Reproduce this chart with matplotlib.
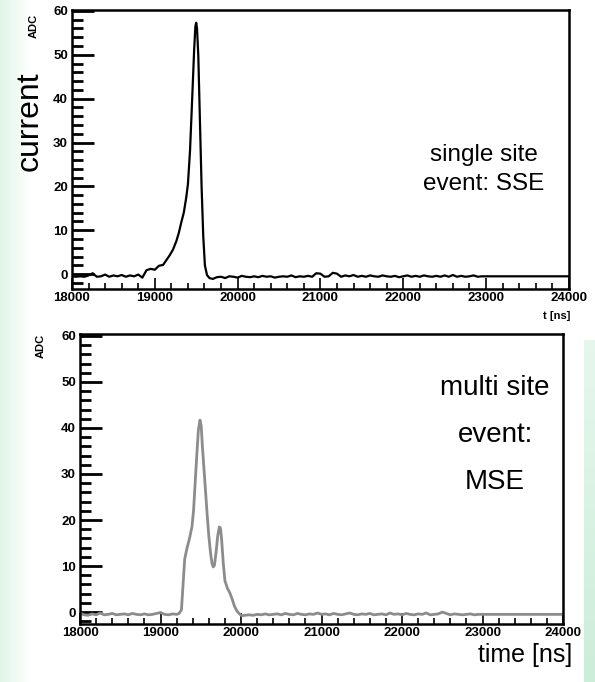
import numpy as np
import matplotlib.pyplot as plt
from matplotlib.ticker import MultipleLocator

# single site event (SSE)
sse_t = [18000, 18050, 18100, 18150, 18200, 18250, 18300, 18350, 18400, 18450,
         18500, 18550, 18600, 18650, 18700, 18750, 18800, 18850, 18900, 18950,
         19000, 19050, 19100, 19140, 19180, 19220, 19260, 19290, 19320, 19350,
         19380, 19400, 19425, 19445, 19460, 19475, 19490, 19500, 19510, 19525,
         19545, 19565, 19585, 19605, 19630, 19660, 19700, 19750, 19800, 19850,
         19900, 19950, 20000, 20050, 20100, 20150, 20200, 20250, 20300, 20350,
         20400, 20450, 20500, 20550, 20600, 20650, 20700, 20750, 20800, 20850,
         20900, 20950, 21000, 21050, 21100, 21150, 21200, 21250, 21300, 21350,
         21400, 21450, 21500, 21550, 21600, 21650, 21700, 21750, 21800, 21850,
         21900, 21950, 22000, 22050, 22100, 22150, 22200, 22250, 22300, 22350,
         22400, 22450, 22500, 22550, 22600, 22650, 22700, 22750, 22800, 22850,
         22900, 22950, 23000, 23500, 24000]
sse_v = [-0.5, -0.6, -0.5, -0.6, -0.3, 0.2, -0.6, -0.5, -0.1, -0.6,
         -0.3, -0.5, -0.2, -0.6, -0.3, -0.5, -0.1, -0.8, 0.9, 1.2,
         1.0, 1.9, 2.1, 3.2, 4.3, 5.6, 7.5, 9.4, 11.8, 14.0,
         17.5, 20.5, 28.0, 37.0, 44.0, 51.0, 56.5, 57.3, 56.0, 50.0,
         35.0, 20.0, 8.7, 2.0, -0.2, -0.9, -1.1, -0.7, -0.6, -0.9,
         -0.5, -0.6, -0.8, -0.4, -0.6, -0.7, -0.5, -0.7, -0.4, -0.6,
         -0.5, -0.8, -0.6, -0.5, -0.6, -0.3, -0.7, -0.5, -0.6, -0.4,
         -0.6, 0.2, 0.1, -0.6, -0.5, 0.3, 0.1, -0.6, -0.3, -0.5,
         -0.2, -0.6, -0.4, -0.6, -0.3, -0.5, -0.6, -0.3, -0.5, -0.6,
         -0.4, -0.7, -0.5, -0.3, -0.6, -0.4, -0.6, -0.3, -0.5, -0.6,
         -0.4, -0.6, -0.3, -0.6, -0.2, -0.6, -0.4, -0.6, -0.5, -0.3,
         -0.6, -0.5, -0.5, -0.5, -0.5]

# multi site event (MSE)
mse_t = [18000, 18050, 18100, 18150, 18200, 18250, 18300, 18350, 18400, 18450,
         18500, 18550, 18600, 18650, 18700, 18750, 18800, 18850, 18900, 18950,
         19000, 19050, 19100, 19150, 19200, 19230, 19260, 19280, 19300, 19330,
         19360, 19390, 19410, 19430, 19450, 19470, 19490, 19505, 19520, 19540,
         19560, 19580, 19600, 19620, 19640, 19655, 19670, 19690, 19710, 19730,
         19745, 19760, 19780, 19800, 19830, 19860, 19890, 19920, 19950, 19980,
         20010, 20050, 20100, 20150, 20200, 20250, 20300, 20350, 20400, 20450,
         20500, 20550, 20600, 20650, 20700, 20750, 20800, 20850, 20900, 20950,
         21000, 21050, 21100, 21150, 21200, 21250, 21300, 21350, 21400, 21450,
         21500, 21550, 21600, 21650, 21700, 21750, 21800, 21850, 21900, 21950,
         22000, 22050, 22100, 22150, 22200, 22250, 22300, 22350, 22400, 22450,
         22500, 22550, 22600, 22650, 22700, 22750, 22800, 22850, 22900, 22950,
         23000, 23050, 23500, 24000]
mse_v = [-0.2, -0.6, -0.7, -0.4, -0.6, -0.2, -0.6, -0.5, -0.3, -0.6,
         -0.5, -0.4, -0.6, -0.3, -0.5, -0.6, -0.4, -0.6, -0.5, -0.3,
         -0.1, -0.5, -0.6, -0.4, -0.5, -0.3, 0.5, 6.0, 11.5, 14.0,
         16.0, 18.5, 22.0, 28.0, 34.0, 39.5, 41.7, 40.5, 36.0, 31.0,
         26.0, 21.0, 16.5, 13.0, 10.5, 9.8, 10.2, 13.0, 16.5, 18.5,
         18.2, 15.5, 10.5, 6.8, 5.2, 4.2, 2.8, 1.2, 0.2, -0.4,
         -0.8, -0.7, -0.6, -0.7, -0.5, -0.6, -0.4, -0.6, -0.5, -0.4,
         -0.6, -0.3, -0.5, -0.6, -0.3, -0.5, -0.6, -0.4, -0.5, -0.2,
         -0.5, -0.4, -0.6, -0.3, -0.5, -0.6, -0.4, -0.2, -0.5, -0.6,
         -0.4, -0.5, -0.3, -0.6, -0.5, -0.4, -0.6, -0.2, -0.5, -0.4,
         -0.6, -0.3, -0.5, -0.6, -0.4, -0.5, -0.2, -0.6, -0.5, -0.4,
         0.0, -0.3, -0.6, -0.4, -0.5, -0.6, -0.5, -0.4, -0.6, -0.5,
         -0.5, -0.5, -0.5, -0.5]

ytick_vals = [0, 10, 20, 30, 40, 50, 60]
xtick_vals = [18000, 19000, 20000, 21000, 22000, 23000, 24000]

plt.rcParams['font.family'] = ['Liberation Sans', 'DejaVu Sans']

fig = plt.figure(figsize=(5.95, 6.82), dpi=100)

# pale green slide background at the edges
bg = fig.add_axes([0, 0, 1, 1], zorder=-10)
H, W = 682, 595
img = np.ones((H, W, 3))
green = np.array([0.88, 0.96, 0.91])
xs = np.arange(W)
left = np.clip(1 - xs / 30.0, 0, 1)[None, :, None]
img = img * (1 - left) + green * left
rows = np.linspace(0, 1, H - 340)[:, None, None]
strip_top = np.array([0.90, 0.97, 0.93])
strip_bot = np.array([0.80, 0.93, 0.85])
img[340:, 584:, :] = strip_top * (1 - rows) + strip_bot * rows
bg.imshow(img, aspect='auto', extent=[0, 1, 0, 1])
bg.axis('off')


def style_axes(ax, ylim):
    ax.set_xlim(18000, 24000)
    ax.set_ylim(*ylim)
    ax.set_xticks(xtick_vals)
    ax.set_yticks(ytick_vals)
    ax.xaxis.set_minor_locator(MultipleLocator(200))
    ax.yaxis.set_minor_locator(MultipleLocator(2))
    ax.tick_params(axis='y', which='major', direction='in', length=16, width=2,
                   labelsize=9.5, pad=3)
    ax.tick_params(axis='y', which='minor', direction='in', length=8, width=2)
    ax.tick_params(axis='x', which='major', direction='in', length=8, width=1.2,
                   labelsize=9.5, pad=2)
    ax.tick_params(axis='x', which='minor', direction='in', length=4, width=1.2)
    for lab in ax.get_xticklabels() + ax.get_yticklabels():
        lab.set_fontweight('bold')
    for s in ax.spines.values():
        s.set_linewidth(1.8)


ax1 = fig.add_axes([0.121, 0.5762, 0.835, 0.4091])
ax1.plot(sse_t, sse_v, color='black', lw=1.6)
style_axes(ax1, (-3.4, 60.2))
fig.text(0.813, 0.751, 'single site\nevent: SSE', ha='center', va='center',
         fontsize=17.5, linespacing=1.4)
fig.text(0.057, 0.980, 'ADC', rotation=90, ha='center', va='top',
         fontsize=8, fontweight='bold')
fig.text(0.049, 0.823, 'current', rotation=90, ha='center', va='center',
         fontsize=23)
fig.text(0.958, 0.537, 't [ns]', ha='right', va='center', fontsize=8,
         fontweight='bold')

ax2 = fig.add_axes([0.1345, 0.0850, 0.8118, 0.4252])
ax2.plot(mse_t, mse_v, color='#8c8c8c', lw=2.0)
style_axes(ax2, (-2.6, 60.4))
fig.text(0.832, 0.362, 'multi site\nevent:\nMSE', ha='center', va='center',
         fontsize=20, linespacing=2.05)
fig.text(0.068, 0.510, 'ADC', rotation=90, ha='center', va='top',
         fontsize=8, fontweight='bold')
fig.text(0.882, 0.040, 'time [ns]', ha='center', va='center', fontsize=18)

fig.savefig('out.png', dpi=100)
